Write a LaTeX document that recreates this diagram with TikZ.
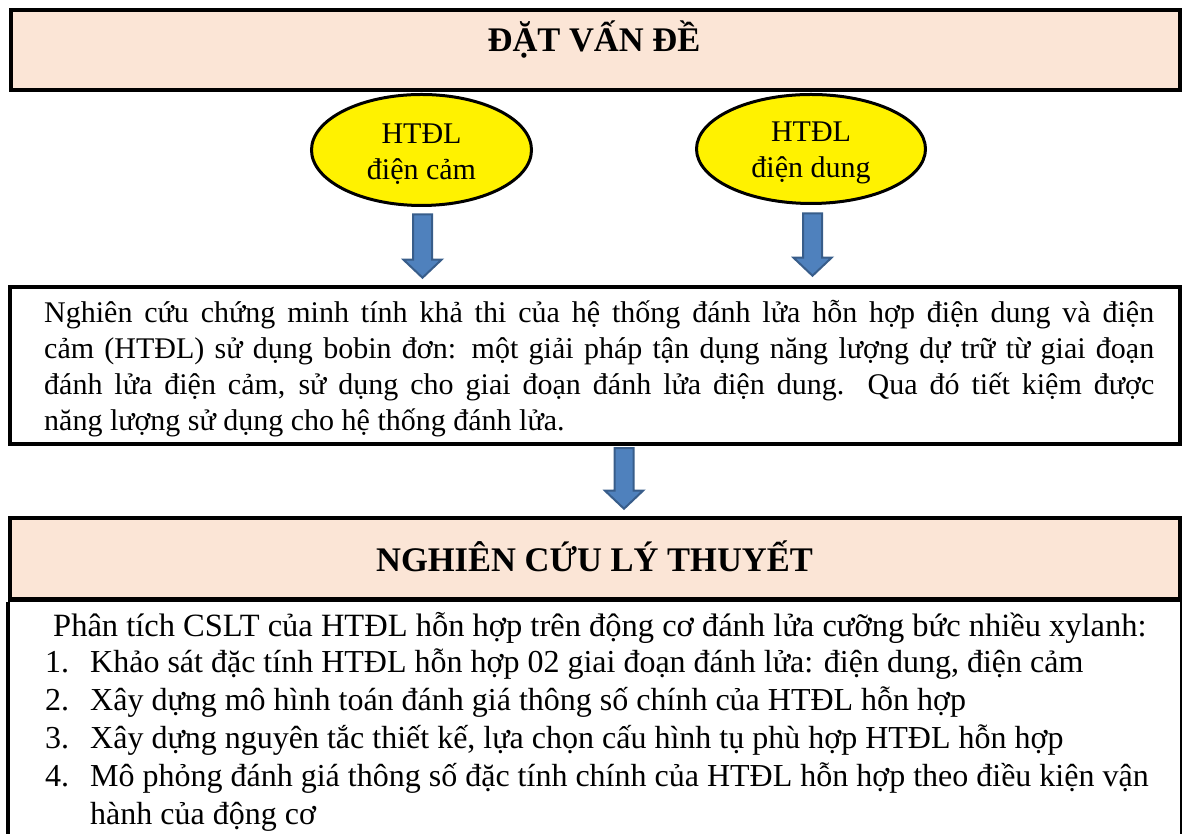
\documentclass[tikz,border=0pt]{standalone}
\usepackage{fontspec}
\setmainfont{Liberation Serif}
\usetikzlibrary{shapes.geometric,calc}

\definecolor{peach}{HTML}{FBE5D6}
\definecolor{arrowfill}{HTML}{4F81BD}
\definecolor{arrowline}{HTML}{385D8A}

\tikzset{
  headbox/.style={draw, line width=4pt, fill=peach, inner sep=0pt},
  textbox/.style={draw, line width=4.5pt, fill=white, inner sep=0pt},
  bubble/.style={ellipse, draw, line width=3pt, fill=yellow, inner sep=0pt,
    align=center, font=\fontsize{30}{36}\selectfont},
  blockarrow/.style={fill=arrowfill, draw=arrowline, line width=2pt, line join=miter},
  headtext/.style={font=\fontsize{34.5}{40}\selectfont\bfseries, inner sep=0pt},
  bodytext/.style={font=\fontsize{30}{36.3}\selectfont, inner sep=0pt, align=left},
  tasktext/.style={font=\fontsize{32}{38}\selectfont, inner sep=0pt, align=left},
}

% fat block arrow pointing down: #1 = top of shaft, #2 = tip
\newcommand{\fatarrow}[2]{%
  \filldraw[blockarrow] ($(#1)+(-9.5,0)$) -- ($(#2)+(-9.5,18)$) -- ($(#2)+(-19,18)$)
    -- (#2) -- ($(#2)+(19,18)$) -- ($(#2)+(9.5,18)$) -- ($(#1)+(9.5,0)$) -- cycle;}

\begin{document}
\begin{tikzpicture}[x=1pt, y=1pt]
  \useasboundingbox (0,0) rectangle (1182,834);

  % -- Two ignition systems --
  \node[bubble, minimum width=220pt, minimum height=111pt] (cam) at (421.5,684)
    {\rule{0pt}{28pt}HTĐL\\điện cảm};
  \node[bubble, minimum width=229pt, minimum height=109pt] (dung) at (811,685)
    {\rule{0pt}{28pt}HTĐL\\điện dung};

  % -- Problem statement --
  \node[headbox, minimum width=1169pt, minimum height=80pt] (problem) at (595.5,784) {};
  \node[headtext, anchor=base] (problemtitle) at (594,782) {ĐẶT VẤN ĐỀ};

  % -- Research goal --
  \node[textbox, minimum width=1170pt, minimum height=157pt] (goal) at (595,468.5) {};
  \node[bodytext, anchor=base west] (goaltext) at (44,403) {%
    \makebox[1110pt][s]{Nghiên cứu chứng minh tính khả thi của hệ thống đánh lửa hỗn hợp điện dung và điện}\\
    \makebox[1110pt][s]{cảm (HTĐL) sử dụng bobin đơn: một giải pháp tận dụng năng lượng dự trữ từ giai đoạn}\\
    \makebox[1110pt][s]{đánh lửa điện cảm, sử dụng cho giai đoạn đánh lửa điện dung. Qua đó tiết kiệm được}\\
    năng lượng sử dụng cho hệ thống đánh lửa.};

  % -- Arrows down --
  \coordinate (camtop) at ($(cam.south)+(1,-7.5)$);
  \coordinate (camtip) at ($(camtop |- goal.north)+(0,7)$);
  \coordinate (dungtop) at ($(dung.south)+(1.5,-8.5)$);
  \coordinate (dungtip) at ($(dungtop |- goal.north)+(0,9)$);
  \fatarrow{camtop}{camtip}
  \fatarrow{dungtop}{dungtip}

  % -- Theory research --
  \node[headbox, line width=4.5pt, minimum width=1170pt, minimum height=81.5pt] (theory) at (595,275.25) {};
  \draw[line width=4.5pt] (theory.south west) -- ++(0,-260);
  \draw[line width=4.5pt] (theory.south east) -- ++(0,-260);
  \node[headtext, anchor=base] (theorytitle) at (594.5,262) {NGHIÊN CỨU LÝ THUYẾT};

  \coordinate (goaltop) at ($(goal.south)+(29,-2)$);
  \coordinate (goaltip) at ($(goaltop |- theory.north)+(0,7)$);
  \fatarrow{goaltop}{goaltip}

  % -- Theory tasks --
  \node[tasktext, anchor=base west, font=\fontsize{32.5}{38}\selectfont] (lead) at (53,197)
    {Phân tích CSLT của HTĐL hỗn hợp trên động cơ đánh lửa cưỡng bức nhiều xylanh:};
  \node[tasktext, anchor=base west] (tasks) at (45,9) {%
    \makebox[45pt][l]{1.}Khảo sát đặc tính HTĐL hỗn hợp 02 giai đoạn đánh lửa: điện dung, điện cảm\\
    \makebox[45pt][l]{2.}Xây dựng mô hình toán đánh giá thông số chính của HTĐL hỗn hợp\\
    \makebox[45pt][l]{3.}Xây dựng nguyên tắc thiết kế, lựa chọn cấu hình tụ phù hợp HTĐL hỗn hợp\\
    \makebox[45pt][l]{4.}Mô phỏng đánh giá thông số đặc tính chính của HTĐL hỗn hợp theo điều kiện vận\\
    \hspace*{45pt}hành của động cơ};

\end{tikzpicture}
\end{document}
